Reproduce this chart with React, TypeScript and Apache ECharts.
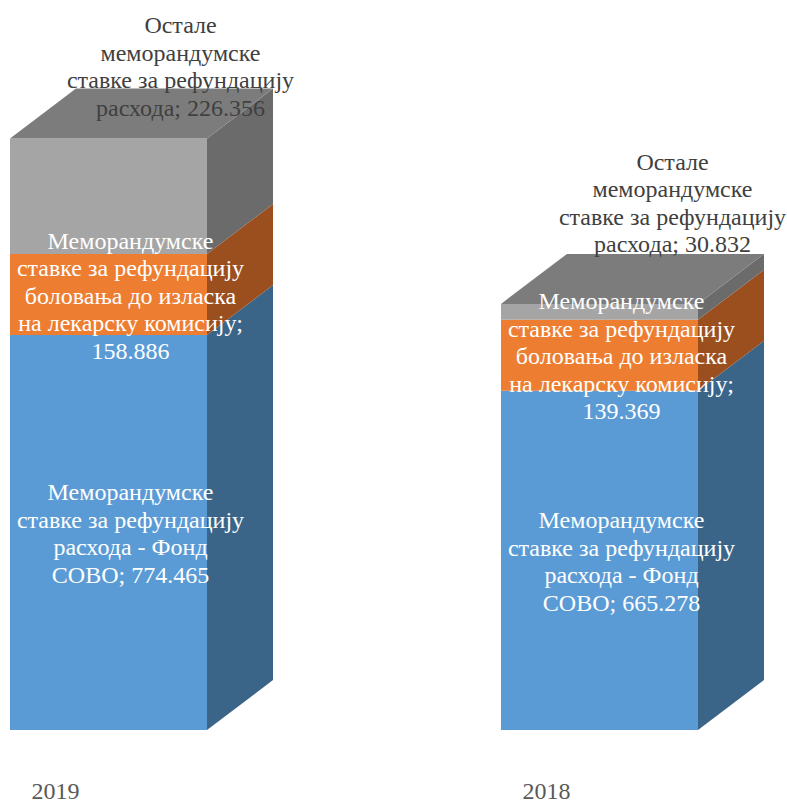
import React, { useEffect, useRef } from "react";
import * as echarts from "echarts";

// ---- data ----
const categories = ["2019", "2018"];
const fondSovo = [774.465, 665.278];
const bolovanje = [158.886, 139.369];
const ostale = [226.356, 30.832];

const fondSovoLabel = "Меморандумске\nставке за рефундацију\nрасхода - Фонд\nСОВО";
const bolovanjeLabel = "Меморандумске\nставке за рефундацију\nболовања до изласка\nна лекарску комисију";
const ostaleLabel = "Остале\nмеморандумске\nставке за рефундацију\nрасхода";

// ---- style ----
const FONT = "Liberation Serif";
const FONT_SIZE = 24;
const LINE_H = 27.5;
const FRONT_W = 197;
const DX = 66;
const DY = -50;
const INNER_LABEL_DX = 22;
const INNER_LABEL_DY = 1;
const OUTER_LABEL_OFFSETS = [
  [72, -72],
  [73, -101],
];

type Seg = {
  name: string;
  values: number[];
  label: string;
  sep: string;
  front: string;
  side: string;
  top: string;
  textColor: string;
  outer: boolean;
};

const segments: Seg[] = [
  {
    name: "fond",
    values: fondSovo,
    label: fondSovoLabel,
    sep: "; ",
    front: "#5B9BD5",
    side: "#3A6588",
    top: "#7CAFDD",
    textColor: "#FFFFFF",
    outer: false,
  },
  {
    name: "bolovanje",
    values: bolovanje,
    label: bolovanjeLabel,
    sep: ";\n",
    front: "#ED7D31",
    side: "#9B4F1F",
    top: "#F1975A",
    textColor: "#FFFFFF",
    outer: false,
  },
  {
    name: "ostale",
    values: ostale,
    label: ostaleLabel,
    sep: "; ",
    front: "#A5A5A5",
    side: "#6B6B6B",
    top: "#7C7C7C",
    textColor: "#404040",
    outer: true,
  },
];

export default function App() {
  const ref = useRef<HTMLDivElement>(null);

  useEffect(() => {
    if (!ref.current) return;
    const chart = echarts.init(ref.current, null, { renderer: "svg" });

    const series: any[] = segments.map((seg, si) => {
      const data = categories.map((_, ci) => {
        let base = 0;
        for (let k = 0; k < si; k++) base += segments[k].values[ci];
        return [ci, base, base + seg.values[ci]];
      });
      const isTop = si === segments.length - 1;
      return {
        type: "custom",
        name: seg.name,
        encode: { x: 0, y: [1, 2] },
        data,
        renderItem: (params: any, api: any) => {
          const ci = api.value(0);
          const lo = api.value(1);
          const hi = api.value(2);
          const pLo = api.coord([ci, lo]);
          const pHi = api.coord([ci, hi]);
          const cx = pLo[0];
          const xL = cx - FRONT_W / 2;
          const xR = cx + FRONT_W / 2;
          const yB = pLo[1];
          const yT = pHi[1];
          const children: any[] = [
            {
              type: "rect",
              z2: si,
              shape: { x: xL, y: yT, width: FRONT_W, height: yB - yT },
              style: { fill: seg.front },
            },
            {
              type: "polygon",
              z2: si,
              shape: {
                points: [
                  [xR, yB],
                  [xR + DX, yB + DY],
                  [xR + DX, yT + DY],
                  [xR, yT],
                ],
              },
              style: { fill: seg.side },
            },
          ];
          if (isTop) {
            children.push({
              type: "polygon",
              z2: si,
              shape: {
                points: [
                  [xL, yT],
                  [xL + DX, yT + DY],
                  [xR + DX, yT + DY],
                  [xR, yT],
                ],
              },
              style: { fill: seg.top },
            });
          }
          const value = seg.values[params.dataIndex];
          let lx: number, ly: number;
          if (seg.outer) {
            const off = OUTER_LABEL_OFFSETS[params.dataIndex];
            lx = cx + off[0];
            ly = yT + off[1];
          } else {
            lx = cx + INNER_LABEL_DX;
            ly = (yT + yB) / 2 + INNER_LABEL_DY;
          }
          children.push({
            type: "text",
            x: lx,
            y: ly,
            z2: 100,
            style: {
              text: seg.label + seg.sep + value.toFixed(3),
              fill: seg.textColor,
              fontFamily: FONT,
              fontSize: FONT_SIZE,
              lineHeight: LINE_H,
              align: "center",
              verticalAlign: "middle",
            },
          });
          return { type: "group", children };
        },
      };
    });

    chart.setOption({
      animation: false,
      backgroundColor: "#FFFFFF",
      textStyle: { fontFamily: FONT },
      grid: {
        left: 108.5,
        right: 187.5,
        top: 16,
        bottom: 75,
        containLabel: false,
        outerBoundsMode: "none",
      },
      xAxis: {
        type: "category",
        data: categories,
        boundaryGap: false,
        axisLine: { show: false },
        axisTick: { show: false },
        splitLine: { show: false },
        axisLabel: {
          margin: 51,
          fontFamily: FONT,
          fontSize: FONT_SIZE,
          lineHeight: 20,
          color: "#595959",
          padding: [0, 106, 0, 0],
        },
      },
      yAxis: {
        type: "value",
        min: 0,
        max: 1400,
        show: false,
        splitLine: { show: false },
      },
      series,
    });

    return () => chart.dispose();
  }, []);

  return (
    <div
      ref={ref}
      style={{ position: "absolute", left: 0, top: 0, width: 787, height: 805 }}
    />
  );
}
